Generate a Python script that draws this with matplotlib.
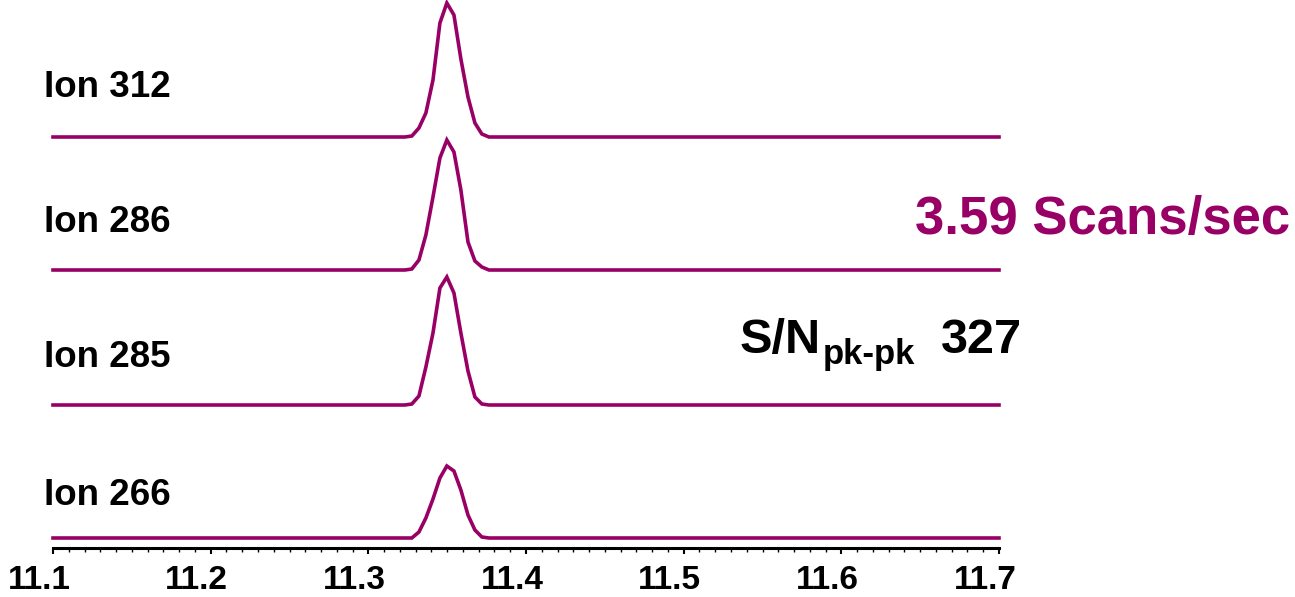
import matplotlib
matplotlib.use("Agg")
import matplotlib.pyplot as plt
import matplotlib.transforms as mtransforms
from matplotlib.ticker import MultipleLocator

plt.rcParams['font.family'] = ['Liberation Sans', 'DejaVu Sans']
plt.rcParams['font.weight'] = 'bold'

# retention time (min) of each scan across the peak, plus the window ends
times = [11.100, 11.3232, 11.3276, 11.3321, 11.3365, 11.3410, 11.3454,
         11.3498, 11.3543, 11.3587, 11.3632, 11.3676, 11.3720, 11.3765, 11.700]

ion_names = ["Ion 312", "Ion 286", "Ion 285", "Ion 266"]
ion_312 = [0, 0, 1, 9, 24, 57, 114, 134, 122, 78, 40, 14, 3, 0, 0]
ion_286 = [0, 0, 1, 10, 35, 73, 112, 130, 118, 80, 28, 9, 3, 0, 0]
ion_285 = [0, 0, 1, 9, 38, 72, 117, 128, 112, 72, 34, 8, 1, 0, 0]
ion_266 = [0, 0, 0, 6, 20, 39, 60, 72, 67, 48, 23, 8, 1, 0, 0]
traces = [ion_312, ion_286, ion_285, ion_266]

# vertical stacking of the chromatograms
offsets = [411, 278, 143, 10]

x_ticks = [11.1, 11.2, 11.3, 11.4, 11.5, 11.6, 11.7]
scan_rate = "3.59 Scans/sec"
sn_value = "327"

purple = "#990066"
W, H = 1295, 597

fig = plt.figure(figsize=(W / 100, H / 100), dpi=100)
ax = fig.add_axes([53 / W, (H - 548) / H, (999 - 53) / W, 548 / H])

for y, off in zip(traces, offsets):
    ax.plot(times, [v + off for v in y], color=purple, lw=2.6,
            solid_joinstyle='miter', clip_on=False)

ax.set_xlim(11.1, 11.7)
ax.set_ylim(0, 548)
for s in ["top", "right", "left"]:
    ax.spines[s].set_visible(False)
ax.spines["bottom"].set_linewidth(2.2)
ax.set_yticks([])
ax.set_xticks(x_ticks)
ax.set_xticklabels([f"{t:.1f}" for t in x_ticks])
ax.xaxis.set_minor_locator(MultipleLocator(0.01))
ax.tick_params(axis="x", which="major", length=4, width=1.5, labelsize=24,
               pad=8)
ax.tick_params(axis="x", which="minor", length=3, width=1.0)
shift = mtransforms.ScaledTranslation(-14 / 100, 0, fig.dpi_scale_trans)
for lab in ax.get_xticklabels():
    lab.set_transform(lab.get_transform() + shift)
    lab.set_fontweight('bold')


def fx(px):
    return px / W


def fy(py):
    return 1 - py / H


label_base = [97, 232, 367, 505]
for name, yb in zip(ion_names, label_base):
    fig.text(fx(44), fy(yb), name, fontsize=26.5, fontweight='bold',
             va='baseline', ha='left')

fig.text(fx(1290), fy(234), scan_rate, fontsize=38, fontweight='bold',
         color=purple, va='baseline', ha='right')

# S/N with a subscript, laid out piece by piece
fig.canvas.draw()
r = fig.canvas.get_renderer()
t1 = fig.text(fx(740), fy(353), "S/N", fontsize=35, fontweight='bold',
              va='baseline', ha='left')
x1 = t1.get_window_extent(r).x1
t2 = fig.text((x1 + 2) / W, fy(364), "pk-pk", fontsize=25, fontweight='bold',
              va='baseline', ha='left')
fig.text(fx(1022), fy(353), sn_value, fontsize=35, fontweight='bold',
         va='baseline', ha='right')

fig.savefig("out.png", dpi=100)
